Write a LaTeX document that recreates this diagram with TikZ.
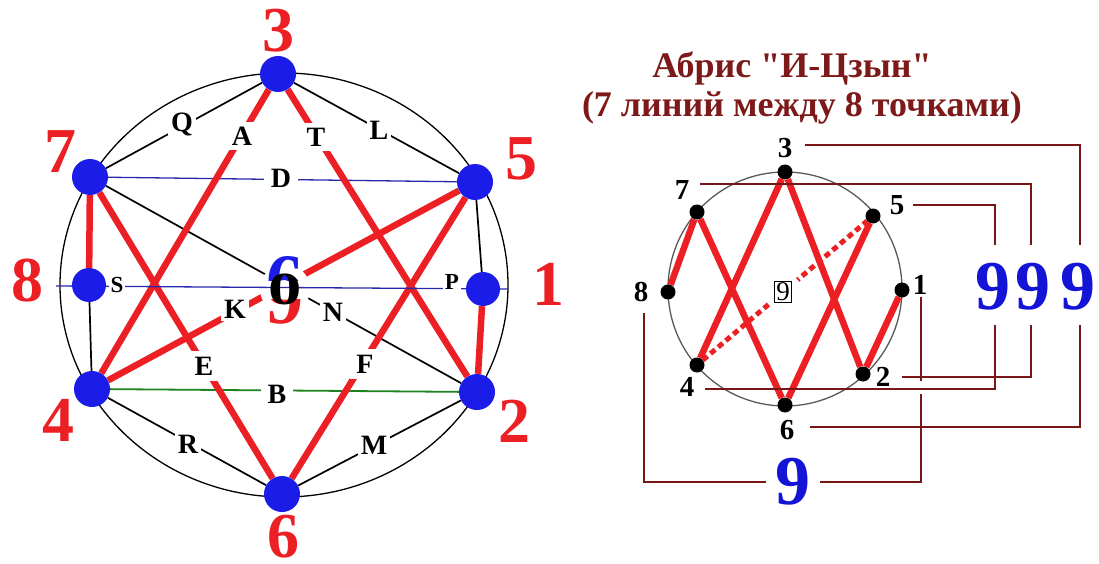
\documentclass[tikz,border=0pt]{standalone}
\usepackage{fontspec}
\setmainfont{Liberation Serif}
\newfontfamily\plainserif{Liberation Serif}[Ligatures=TeXOff]
\definecolor{nodeblue}{RGB}{28,28,232}
\definecolor{numred}{RGB}{236,32,36}
\definecolor{navyline}{RGB}{40,40,170}
\definecolor{grnline}{RGB}{30,130,30}
\definecolor{brkred}{RGB}{120,22,22}
\definecolor{titlered}{RGB}{125,25,25}
\definecolor{ninblue}{RGB}{20,20,215}
\pgfdeclarelayer{bg}
\pgfsetlayers{bg,main}
\begin{document}
\begin{tikzpicture}[x=1pt,y=-1pt,
  bdot/.style={circle,fill=nodeblue,inner sep=0pt,minimum size=36pt},
  sdot/.style={circle,fill=nodeblue,inner sep=0pt,minimum size=34pt},
  kdot/.style={circle,fill=black,inner sep=0pt,minimum size=15pt},
  bignum/.style={text=numred,inner sep=0pt,font=\fontsize{64}{64}\selectfont\bfseries},
  lbl/.style={fill=white,inner sep=3pt,font=\fontsize{28}{28}\selectfont\bfseries},
  slbl/.style={fill=white,inner sep=2pt,font=\fontsize{23}{23}\selectfont\bfseries},
  rnum/.style={inner sep=1pt,font=\fontsize{29}{29}\selectfont\bfseries},
  ninenum/.style={text=ninblue,inner sep=0pt,font=\fontsize{70}{70}\selectfont\bfseries},
  ttl/.style={text=titlered,inner sep=0pt,font=\fontsize{36}{36}\plainserif\bfseries},
  kline/.style={line width=1.7pt,black},
  thinblue/.style={line width=1.3pt,navyline},
  thingreen/.style={line width=1.8pt,grnline},
  rline/.style={line width=6.5pt,numred},
  rdots/.style={line width=5pt,numred,dash pattern=on 6pt off 4pt},
  brline/.style={line width=2.6pt,brkred},
]
\useasboundingbox (0,0) rectangle (1099,564);

% ---------- left diagram: points ----------
\node[bdot] (n3) at (278,74) {};
\node[bdot] (n7) at (90,177) {};
\node[bdot] (n5) at (475,182) {};
\node[sdot] (n8) at (89,285) {};
\node[sdot] (n1) at (483,289) {};
\node[bdot] (n4) at (92,389) {};
\node[bdot] (n2) at (477,392) {};
\node[bdot] (n6) at (282,494) {};
\coordinate (sL) at (56,286);
\coordinate (sR) at (508,289);

% big red numbers
\node[bignum] (d3) at (278,31) {3};
\node[bignum] (d7) at (60,152) {7};
\node[bignum] (d5) at (521,159) {5};
\node[bignum] (d8) at (28,281) {8};
\node[bignum] (d1) at (548,284) {1};
\node[bignum] (d4) at (58,420) {4};
\node[bignum] (d2) at (514,421) {2};
\node[bignum] (d6) at (283,537) {6};

% letter labels
\node[lbl] (lQ) at (182,125) {Q};
\node[lbl] (lL) at (379,130) {L};
\node[lbl,inner sep=5pt] (lA) at (242,136) {A};
\node[lbl,inner sep=5pt] (lT) at (316,137) {T};
\node[lbl,inner xsep=7pt] (lD) at (281,178) {D};
\node[slbl] (lS) at (117,285) {S};
\node[slbl] (lP) at (452,282) {P};
\node[lbl] (lK) at (235,309) {K};
\node[lbl] (lN) at (333,312) {N};
\node[lbl,inner sep=6pt] (lE) at (204,366) {E};
\node[lbl,inner sep=6pt] (lF) at (365,364) {F};
\node[lbl,inner xsep=7pt] (lB) at (277,394) {B};
\node[lbl] (lR) at (188,444) {R};
\node[lbl] (lM) at (374,445) {M};

% centre glyph 0 / 6 / 9
\begin{scope}
\clip (230,230) rectangle (340,280);
\node[text=nodeblue,inner sep=0pt,anchor=base,font=\fontsize{74}{74}\selectfont\bfseries] (g6) at (285,305) {6};
\end{scope}
\begin{scope}
\clip (230,299) rectangle (340,345);
\node[text=numred,inner sep=0pt,anchor=base,font=\fontsize{74}{74}\selectfont\bfseries] (g9) at (285,323) {9};
\end{scope}
\node[inner sep=0pt,font=\fontsize{46}{46}\selectfont\bfseries] (g0) at (285,289) {\scalebox{1.45}[1]{0}};

% ---------- right diagram: points ----------
\node[kdot] (r3) at (785,172) {};
\node[kdot] (r7) at (697,212) {};
\node[kdot] (r5) at (873,216) {};
\node[kdot] (r8) at (668,292) {};
\node[kdot] (r1) at (902,290) {};
\node[kdot] (r4) at (697,365) {};
\node[kdot] (r2) at (863,374) {};
\node[kdot] (r6) at (785,405) {};

\node[rnum] (t3) at (785,148) {3};
\node[rnum] (t7) at (682,190) {7};
\node[rnum] (t5) at (897,205) {5};
\node[rnum] (t8) at (641,292) {8};
\node[rnum] (t1) at (920,285) {1};
\node[rnum] (t4) at (687,387) {4};
\node[rnum] (t2) at (883,377) {2};
\node[rnum] (t6) at (787,430) {6};

\node[draw=black,line width=0.8pt,fill=white,inner sep=1.5pt,font=\fontsize{27}{27}\selectfont] (box9) at (783,292) {9};

\node[ttl] (title1) at (792,68) {Абрис "И-Цзын"};
\node[ttl] (title2) at (802,108) {(7 линий между 8 точками)};

\node[ninenum] (na) at (993,287) {9};
\node[ninenum] (nb) at (1033,287) {9};
\node[ninenum] (nc) at (1078,287) {9};
\node[ninenum] (nd) at (793,482) {9};

% bracket coordinates
\coordinate (b3s) at (805,145);  \coordinate (b3e) at (1080,245);
\coordinate (b7s) at (700,184);  \coordinate (b7e) at (1031,245);
\coordinate (b5s) at (913,205);  \coordinate (b5e) at (995,245);
\coordinate (b4s) at (705,389);  \coordinate (b4e) at (995,325);
\coordinate (b2s) at (902,377);  \coordinate (b2e) at (1031,325);
\coordinate (b6s) at (810,427);  \coordinate (b6e) at (1080,325);
\coordinate (b8s) at (644,313);  \coordinate (b8e) at (766,482);
\coordinate (b1s) at (820,482);  \coordinate (b1m) at (921,394);
\coordinate (b1a) at (921,381);  \coordinate (b1t) at (921,297);

\begin{pgfonlayer}{bg}
  % left: outer ellipse
  \draw[line width=1.3pt] (284,285) ellipse (224pt and 212pt);
  % thin connectors
  \draw[kline] (n7) -- (n3);
  \draw[kline] (n3) -- (n5);
  \draw[kline] (n7) -- (n2);
  \draw[kline] (n4) -- (n6);
  \draw[kline] (n6) -- (n2);
  \draw[kline] (n8) -- (n4);
  \draw[kline] (n5) -- (n1);
  \draw[thinblue] (n7) -- (n5);
  \draw[thingreen] (n4) -- (n2);
  % red connectors
  \draw[rline] (n3) -- (n4);
  \draw[rline] (n3) -- (n2);
  \draw[rline] (n7) -- (n8);
  \draw[rline] (n7) -- (n6);
  \draw[rline] (n5) -- (n4);
  \draw[rline] (n5) -- (n6);
  \draw[rline] (n1) -- (n2);
  % gap around the centre glyph
  \fill[white] (285,289) circle (25pt);
  \draw[thinblue] (sL) -- (sR);

  % right: circle
  \draw[line width=1.3pt,black!65] (785,289) circle (117pt);
  % red zigzag
  \draw[rline] (r8) -- (r7);
  \draw[rline] (r7) -- (r6);
  \draw[rline] (r4) -- (r3);
  \draw[rline] (r3) -- (r2);
  \draw[rline] (r6) -- (r5);
  \draw[rline] (r2) -- (r1);
  \draw[rdots] (r4) -- (r5);
  \fill[white] (783,292) circle (19pt);
  % brackets
  \draw[brline] (b3s) -| (b3e);
  \draw[brline] (b7s) -| (b7e);
  \draw[brline] (b5s) -| (b5e);
  \draw[brline] (b4s) -| (b4e);
  \draw[brline] (b2s) -| (b2e);
  \draw[brline] (b6s) -| (b6e);
  \draw[brline] (b8s) |- (b8e);
  \draw[brline] (b1s) -| (b1m);
  \draw[brline] (b1a) -- (b1t);
\end{pgfonlayer}
\end{tikzpicture}
\end{document}
